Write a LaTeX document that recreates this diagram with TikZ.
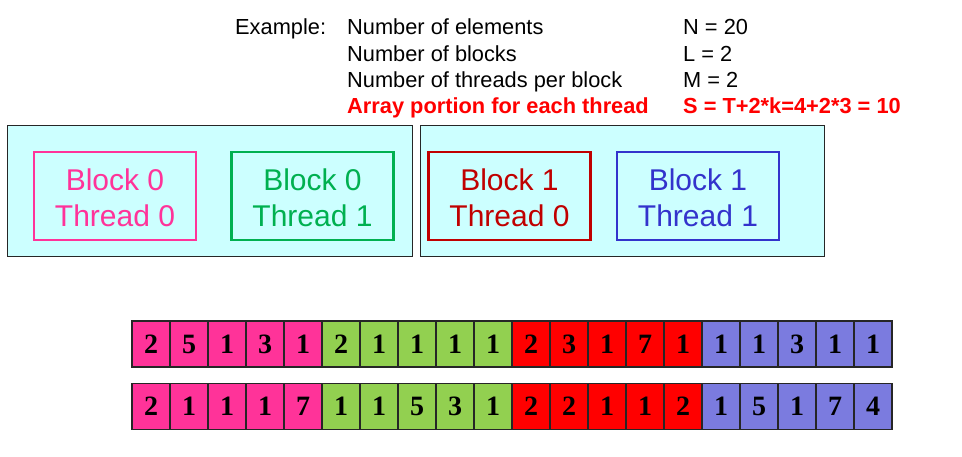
\documentclass[tikz,border=0pt]{standalone}
\usepackage{fontspec}
\setmainfont{Liberation Sans}
\newfontfamily\cellfont{Liberation Serif}
\usetikzlibrary{positioning}
\definecolor{cyanbg}{HTML}{CCFFFF}
\definecolor{tpink}{HTML}{FF3399}
\definecolor{tgreen}{HTML}{00B050}
\definecolor{tdred}{HTML}{C00000}
\definecolor{tblue}{HTML}{3333CC}
\definecolor{cpink}{HTML}{FF3399}
\definecolor{cgreen}{HTML}{92D050}
\definecolor{cred}{HTML}{FF0000}
\definecolor{cblue}{HTML}{7B7BDF}
\newcommand{\toptxt}{\fontsize{21.8}{26}\selectfont}
\newcommand{\thrtxt}{\fontsize{30}{36}\selectfont}
\tikzset{
  info/.style={anchor=base west, inner sep=0pt, font=\toptxt},
  blockframe/.style={draw=black!85, fill=cyanbg, line width=1pt},
  thread/.style={draw=#1, text=#1, line width=2.2pt, minimum width=162pt,
    minimum height=88pt, align=center, font=\thrtxt, inner sep=0pt},
  cell/.style={draw=black!85, fill=#1, line width=1.4pt, minimum width=38pt,
    minimum height=46pt, inner sep=0pt, font=\cellfont\bfseries\fontsize{28}{30}\selectfont}
}
\begin{document}
\begin{tikzpicture}[x=1pt,y=-1pt]
\useasboundingbox (0,0) rectangle (962,457);

\node[info] (ex) at (235,35) {Example:};
\node[info] (n1) at (347,35) {Number of elements};
\node[info] (n2) at (347,61.5) {Number of blocks};
\node[info] (n3) at (347,88) {Number of threads per block};
\node[info, text=red, font=\toptxt\bfseries] (n4) at (347,114) {Array portion for each thread};
\node[info] (v1) at (683,35) {N = 20};
\node[info] (v2) at (683,61.5) {L = 2};
\node[info] (v3) at (683,88) {M = 2};
\node[info, text=red, font=\toptxt\bfseries] (v4) at (683,114) {S = T+2*k=4+2*3 = 10};

% blocks
\draw[blockframe] (7,126) rectangle (412,257);
\draw[blockframe] (420,126) rectangle (824,257);

\node[thread=tpink] (b0t0) at (115,196) {};
\node[thread=tgreen] (b0t1) at (312.5,196) {};
\node[thread=tdred] (b1t0) at (509.5,196) {};
\node[thread=tblue] (b1t1) at (698,196) {};
\node[align=center, font=\thrtxt, text=tpink] (l00) at (115,198) {Block 0\\Thread 0};
\node[align=center, font=\thrtxt, text=tgreen] (l01) at (312.5,198) {Block 0\\Thread 1};
\node[align=center, font=\thrtxt, text=tdred] (l10) at (509.5,198) {Block 1\\Thread 0};
\node[align=center, font=\thrtxt, text=tblue] (l11) at (698,198) {Block 1\\Thread 1};

% arrays
\foreach \v [count=\i from 0] in {2,5,1,3,1,2,1,1,1,1,2,3,1,7,1,1,1,3,1,1}{
  \pgfmathtruncatemacro{\g}{\i/5}
  \ifcase\g \def\c{cpink}\or \def\c{cgreen}\or \def\c{cred}\else \def\c{cblue}\fi
  \node[cell=\c] (a\i) at ({151+38*\i},344) {\v};
}
\foreach \v [count=\i from 0] in {2,1,1,1,7,1,1,5,3,1,2,2,1,1,2,1,5,1,7,4}{
  \pgfmathtruncatemacro{\g}{\i/5}
  \ifcase\g \def\c{cpink}\or \def\c{cgreen}\or \def\c{cred}\else \def\c{cblue}\fi
  \node[cell=\c] (b\i) at ({151+38*\i},406.5) {\v};
}
\end{tikzpicture}
\end{document}
